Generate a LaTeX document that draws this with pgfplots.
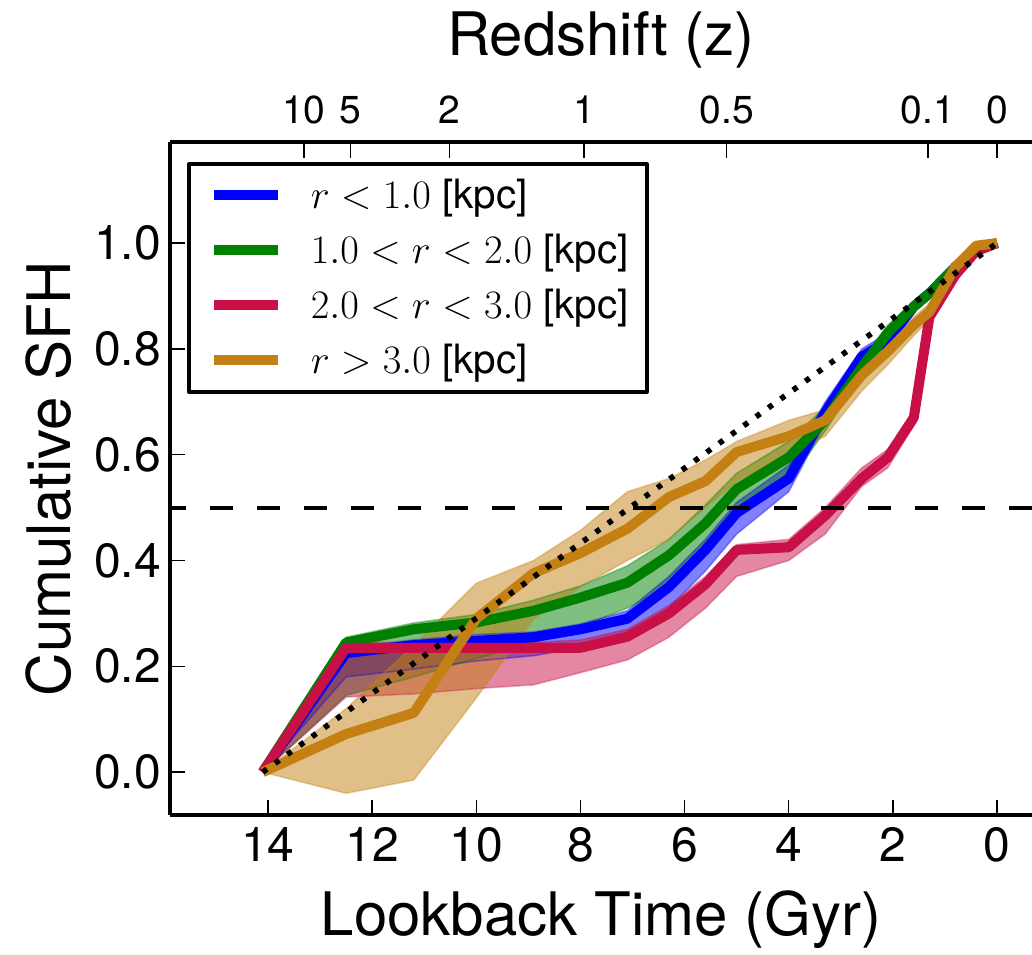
\documentclass[border=0pt]{standalone}
\usepackage{fix-cm}
\usepackage[no-math]{fontspec}
\setmainfont{TeX Gyre Heros}
\usepackage{pgfplots}
\pgfplotsset{compat=1.18}
\usepackage{pgfplotstable}
\usepgfplotslibrary{fillbetween}

\definecolor{cblue}{RGB}{0,0,255}
\definecolor{cgreen}{RGB}{0,128,0}
\definecolor{cred}{RGB}{200,16,70}
\definecolor{corange}{RGB}{196,128,18}

\newcommand{\legfont}{\fontsize{20.2}{24}\selectfont}

% t = lookback time (Gyr), y = cumulative SFH, lo/hi = band
\pgfplotstableread{
t    y      lo     hi
14.1 0      0      0
12.5 0.225  0.180  0.235
11.2 0.240  0.195  0.250
10.0 0.248  0.210  0.260
8.9  0.255  0.220  0.265
8.0  0.270  0.235  0.280
7.1  0.290  0.255  0.305
6.3  0.350  0.310  0.370
5.6  0.420  0.380  0.440
5.0  0.490  0.450  0.510
4.0  0.555  0.530  0.580
3.3  0.680  0.660  0.700
2.6  0.785  0.770  0.800
2.1  0.815  0.800  0.830
1.6  0.880  0.870  0.890
1.3  0.905  0.895  0.915
0.8  0.955  0.945  0.965
0.4  0.990  0.985  0.995
0    1      1      1
}\tblue

\pgfplotstableread{
t    y      lo     hi
14.1 0      0      0
12.5 0.245  0.145  0.255
11.2 0.270  0.180  0.282
10.0 0.283  0.215  0.298
8.9  0.305  0.245  0.325
8.0  0.330  0.275  0.352
7.1  0.358  0.310  0.390
6.3  0.410  0.350  0.440
5.6  0.470  0.415  0.505
5.0  0.535  0.480  0.565
4.0  0.595  0.550  0.625
3.3  0.665  0.645  0.690
2.6  0.765  0.750  0.780
2.1  0.830  0.815  0.845
1.6  0.880  0.870  0.890
1.3  0.905  0.895  0.915
0.8  0.955  0.945  0.965
0.4  0.985  0.980  0.990
0    1      1      1
}\tgreen

\pgfplotstableread{
t    y      lo     hi
14.1 0      0      0
12.5 0.235  0.142  0.245
11.2 0.235  0.148  0.245
10.0 0.235  0.158  0.245
8.9  0.235  0.165  0.245
8.0  0.235  0.188  0.250
7.1  0.256  0.212  0.270
6.3  0.300  0.255  0.315
5.6  0.355  0.310  0.370
5.0  0.420  0.370  0.430
4.0  0.425  0.400  0.440
3.3  0.485  0.450  0.500
2.6  0.555  0.540  0.575
2.1  0.595  0.575  0.610
1.6  0.670  0.655  0.680
1.3  0.860  0.850  0.870
0.8  0.940  0.930  0.950
0.4  0.985  0.980  0.990
0    1      1      1
}\tred

\pgfplotstableread{
t    y      lo      hi
14.1 0      0       0
12.5 0.072  -0.040  0.120
11.2 0.112  -0.015  0.240
10.0 0.290  0.140   0.357
8.9  0.376  0.290   0.400
8.0  0.414  0.350   0.457
7.1  0.460  0.400   0.530
6.3  0.520  0.440   0.555
5.6  0.550  0.500   0.590
5.0  0.605  0.550   0.625
4.0  0.635  0.600   0.665
3.3  0.665  0.635   0.685
2.6  0.750  0.720   0.765
2.1  0.795  0.770   0.810
1.6  0.845  0.825   0.860
1.3  0.870  0.855   0.885
0.8  0.955  0.940   0.965
0.4  0.995  0.990   1.000
0    1      1       1
}\torange

\begin{document}
\begin{tikzpicture}
\begin{axis}[
  at={(0,0)}, anchor=south west,
  width=431pt, height=336.5pt, scale only axis,
  x dir=reverse,
  xmin=-0.67, xmax=15.88, ymin=-0.081, ymax=1.191,
  axis x line*=box, axis y line*=left,
  axis line style={line width=1.8pt, black},
  xtick={0,2,4,6,8,10,12,14}, xtick pos=bottom,
  ytick={0,0.2,0.4,0.6,0.8,1.0}, ytick pos=left,
  yticklabels={0.0,0.2,0.4,0.6,0.8,1.0},
  tick align=inside,
  major tick length=7.5pt,
  every tick/.style={black, line width=0.7pt},
  /pgf/number format/assume math mode=true,
  tick label style={font=\fontsize{24}{28}\selectfont},
  xticklabel style={yshift=-2.5pt},
  yticklabel style={xshift=-1pt},
  label style={font=\fontsize{30}{36}\selectfont},
  xlabel={Lookback Time (Gyr)},
  xlabel style={at={(axis description cs:0.5,-0.155)}, anchor=center},
  ylabel={Cumulative SFH},
  ylabel style={at={(axis description cs:-0.1404,0.5)}, anchor=center, rotate=0},
  legend cell align=left,
  legend image code/.code={\path (0pt,0pt) (47pt,0pt); \draw[#1, line cap=butt] (3pt,0pt) -- (35pt,0pt);},
  legend style={at={(axis description cs:0.0197,0.970)}, anchor=north west,
    draw=black, line width=1.8pt, inner xsep=7pt, inner ysep=2pt,
    font=\legfont,
    nodes={inner xsep=2pt, inner ysep=0pt, text height=20.25pt, text depth=7.25pt, font=\legfont},
    row sep=0pt},
  line join=round,
]
% bands
\addplot[name path=bhi, cblue, line width=0.8pt, draw opacity=0.35, forget plot] table[x=t,y=hi]{\tblue};
\addplot[name path=blo, cblue, line width=0.8pt, draw opacity=0.35, forget plot] table[x=t,y=lo]{\tblue};
\addplot[fill=cblue, fill opacity=0.5, draw=none, forget plot] fill between[of=bhi and blo];
\addplot[name path=ghi, cgreen, line width=0.8pt, draw opacity=0.35, forget plot] table[x=t,y=hi]{\tgreen};
\addplot[name path=glo, cgreen, line width=0.8pt, draw opacity=0.35, forget plot] table[x=t,y=lo]{\tgreen};
\addplot[fill=cgreen, fill opacity=0.5, draw=none, forget plot] fill between[of=ghi and glo];
\addplot[name path=rhi, cred, line width=0.8pt, draw opacity=0.35, forget plot] table[x=t,y=hi]{\tred};
\addplot[name path=rlo, cred, line width=0.8pt, draw opacity=0.35, forget plot] table[x=t,y=lo]{\tred};
\addplot[fill=cred, fill opacity=0.5, draw=none, forget plot] fill between[of=rhi and rlo];
\addplot[name path=ohi, corange, line width=0.8pt, draw opacity=0.35, forget plot] table[x=t,y=hi]{\torange};
\addplot[name path=olo, corange, line width=0.8pt, draw opacity=0.35, forget plot] table[x=t,y=lo]{\torange};
\addplot[fill=corange, fill opacity=0.5, draw=none, forget plot] fill between[of=ohi and olo];
% lines
\addplot[cblue, line width=5pt] table[x=t,y=y]{\tblue};
\addlegendentry{\legfont $r<1.0$ [kpc]}
\addplot[cgreen, line width=5pt] table[x=t,y=y]{\tgreen};
\addlegendentry{\legfont $1.0<r<2.0$ [kpc]}
\addplot[cred, line width=5pt] table[x=t,y=y]{\tred};
\addlegendentry{\legfont $2.0<r<3.0$ [kpc]}
\addplot[corange, line width=5pt] table[x=t,y=y]{\torange};
\addlegendentry{\legfont $r>3.0$ [kpc]}
% reference lines
\addplot[black, line width=2pt, dash pattern=on 11.5pt off 12pt, forget plot] coordinates {(-0.67,0.5) (15.88,0.5)};
\addplot[black, line width=2.8pt, dash pattern=on 2.6pt off 5pt, forget plot] coordinates {(14.1,0) (0,1)};
\end{axis}
\begin{axis}[
  at={(0,0)}, anchor=south west,
  width=431pt, height=336.5pt, scale only axis,
  x dir=reverse,
  xmin=-0.67, xmax=15.88, ymin=0, ymax=1,
  axis x line*=top, axis y line=none,
  axis line style={line width=1.8pt, black},
  xtick={13.31,12.41,10.51,7.93,5.19,1.33,0},
  xticklabels={10,5,2,1,0.5,0.1,0},
  tick align=inside,
  major tick length=8pt,
  every tick/.style={black, line width=0.7pt},
  tick label style={font=\fontsize{19.5}{23}\selectfont},
  xticklabel style={yshift=5.5pt},
  xlabel={Redshift (z)},
  label style={font=\fontsize{30}{36}\selectfont},
  xlabel style={at={(axis description cs:0.5,1.1516)}, anchor=center},
]
\addplot[draw=none, forget plot] coordinates {(0,0.5)};
\end{axis}
\pgfresetboundingbox
\path (-85pt,-69.5pt) rectangle (431pt,407.5pt);
\end{tikzpicture}
\end{document}
